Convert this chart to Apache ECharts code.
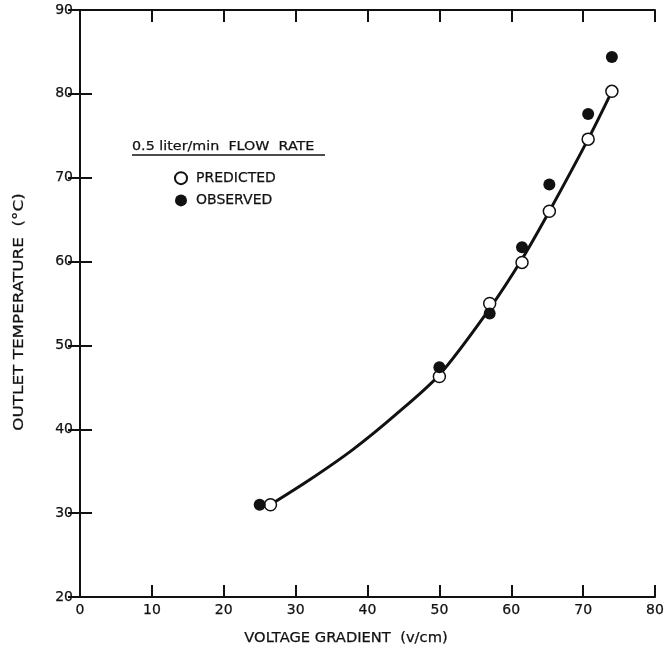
<!DOCTYPE html>
<html>
<head>
<meta charset="utf-8">
<script src="https://cdn.jsdelivr.net/npm/echarts@6/dist/echarts.min.js"></script>
<style>
  html, body { margin: 0; padding: 0; background: #fff; }
  #chart { width: 669px; height: 653px; }
</style>
</head>
<body>
<div id="chart"></div>
<script>
// Outlet temperature vs. voltage gradient at 0.5 liter/min flow rate
const xTicks = [0, 10, 20, 30, 40, 50, 60, 70, 80];
const yTicks = [20, 30, 40, 50, 60, 70, 80, 90];

// Predicted values (open circles)
const predictedX = [26.5, 50, 57, 61.5, 65.3, 70.7, 74];
const predictedY = [31.0, 46.3, 55.0, 59.9, 66.0, 74.6, 80.3];

// Observed values (filled circles)
const observedX = [25, 50, 57, 61.5, 65.3, 70.7, 74];
const observedY = [31.0, 47.4, 53.8, 61.7, 69.2, 77.6, 84.4];

// Hand-fitted curve through the predicted values
const curveX = [26.5, 32, 38, 44, 50, 57, 61.5, 65.3, 70.7, 74];
const curveY = [31.0, 34.0, 37.6, 41.8, 46.5, 54.4, 60.3, 66.0, 74.6, 80.3];

const xTitle = 'VOLTAGE GRADIENT  (v/cm)';
const yTitle = 'OUTLET TEMPERATURE  (°C)';
const legendHeading = '0.5 liter/min  FLOW  RATE';
const seriesNames = ['PREDICTED', 'OBSERVED'];

const FONT = 'DejaVu Sans';
const INK = '#111';

const pairs = (xs, ys) => xs.map((x, i) => [x, ys[i]]);

const chart = echarts.init(document.getElementById('chart'), null, { renderer: 'canvas' });

const tickStyle = { show: true, inside: true, length: 12, lineStyle: { color: INK, width: 2 } };
const lineStyle = { show: true, lineStyle: { color: INK, width: 2 } };
const labelText = {
  color: INK, fontFamily: FONT, fontSize: 14,
  textBorderColor: INK, textBorderWidth: 0.25,
  showMinLabel: true, showMaxLabel: true
};

const option = {
  animation: false,
  backgroundColor: '#fff',
  grid: { left: 80, right: 14, top: 10, bottom: 56, containLabel: false },
  xAxis: [
    {
      type: 'value', min: xTicks[0], max: xTicks[xTicks.length - 1], interval: 10,
      axisLine: lineStyle, axisTick: tickStyle, splitLine: { show: false },
      axisLabel: Object.assign({ margin: 6 }, labelText)
    },
    {
      type: 'value', position: 'top', min: xTicks[0], max: xTicks[xTicks.length - 1], interval: 10,
      axisLine: lineStyle, axisTick: tickStyle, splitLine: { show: false }, axisLabel: { show: false }
    }
  ],
  yAxis: [
    {
      type: 'value', min: yTicks[0], max: yTicks[yTicks.length - 1], interval: 10,
      axisLine: lineStyle, axisTick: tickStyle, splitLine: { show: false },
      axisLabel: Object.assign({ margin: 7 }, labelText)
    },
    {
      type: 'value', position: 'right', min: yTicks[0], max: yTicks[yTicks.length - 1], interval: 10,
      axisLine: lineStyle, axisTick: tickStyle, splitLine: { show: false }, axisLabel: { show: false }
    }
  ],
  legend: {
    data: seriesNames,
    orient: 'vertical',
    left: 169,
    top: 166,
    itemWidth: 12,
    itemHeight: 12,
    itemGap: 8,
    textStyle: {
      color: INK, fontFamily: FONT, fontSize: 14, lineHeight: 14,
      textBorderColor: INK, textBorderWidth: 0.25, padding: [0, 0, 0, 4]
    }
  },
  graphic: [
    {
      type: 'text', x: 346, y: 638, scaleX: 1.05,
      style: { text: xTitle, fill: INK, font: '14px "DejaVu Sans"', stroke: INK, lineWidth: 0.25, align: 'center', verticalAlign: 'middle' }
    },
    {
      type: 'text', x: 19, y: 312, rotation: Math.PI / 2, scaleX: 1.2,
      style: { text: yTitle, fill: INK, font: '14px "DejaVu Sans"', stroke: INK, lineWidth: 0.25, align: 'center', verticalAlign: 'middle' }
    },
    {
      type: 'text', x: 132, y: 147, scaleX: 1.1,
      style: { text: legendHeading, fill: INK, font: '13px "DejaVu Sans"', stroke: INK, lineWidth: 0.25, align: 'left', verticalAlign: 'middle' }
    },
    {
      type: 'line', shape: { x1: 132, y1: 155, x2: 325, y2: 155 },
      style: { stroke: INK, lineWidth: 1.5 }
    }
  ],
  series: [
    {
      name: 'curve',
      type: 'line',
      data: pairs(curveX, curveY),
      smooth: 0.3,
      showSymbol: false,
      symbol: 'none',
      lineStyle: { color: INK, width: 3 },
      z: 2,
      silent: true
    },
    {
      name: seriesNames[0],
      type: 'scatter',
      data: pairs(predictedX, predictedY),
      symbol: 'circle',
      symbolSize: 12,
      itemStyle: { color: '#fff', borderColor: INK, borderWidth: 1.5, opacity: 1 },
      z: 3
    },
    {
      name: seriesNames[1],
      type: 'scatter',
      data: pairs(observedX, observedY),
      symbol: 'circle',
      symbolSize: 12,
      itemStyle: { color: INK, borderColor: INK, borderWidth: 0, opacity: 1 },
      z: 4
    }
  ]
};

chart.setOption(option);
</script>
</body>
</html>
